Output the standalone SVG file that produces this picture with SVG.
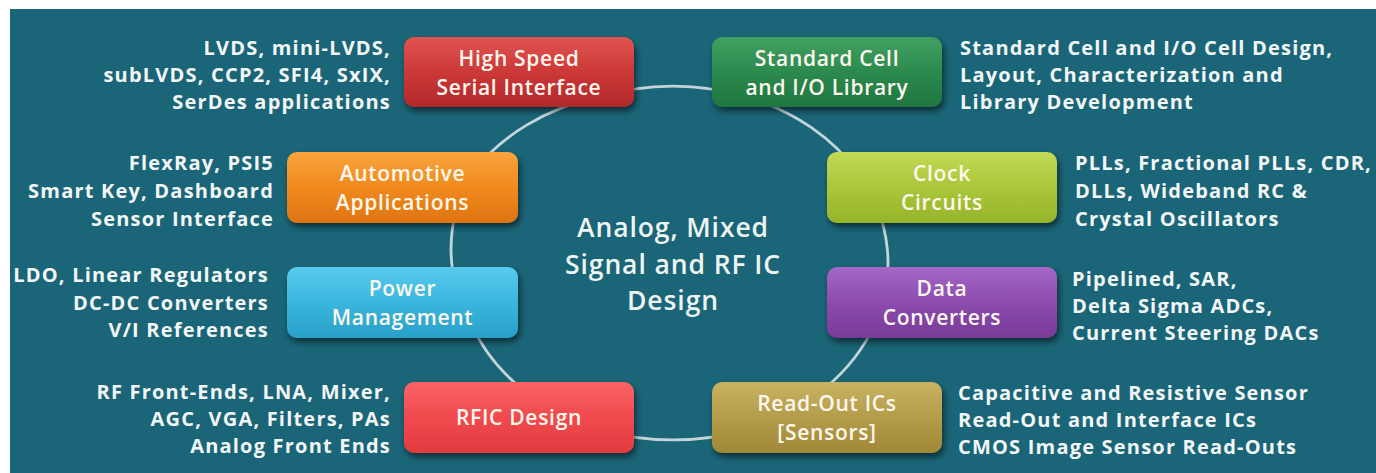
<svg xmlns="http://www.w3.org/2000/svg" width="1376" height="473" viewBox="0 0 1376 473">
  <defs>
    <style>
      .side { font-family: "Open Sans", Lato, "Liberation Sans", sans-serif; font-weight: 700; font-size: 20px; letter-spacing: 1.2px; fill: #f2f6f6; }
      .lbl { font-family: "Open Sans", Lato, "Liberation Sans", sans-serif; font-weight: 600; font-size: 21px; letter-spacing: 0.7px; fill: #fdf7ee; text-anchor: middle; }
      .title { font-family: "Open Sans", Lato, "Liberation Sans", sans-serif; font-weight: 600; font-size: 26.5px; letter-spacing: 0.9px; fill: #eef4f2; text-anchor: middle; }
      .end { text-anchor: end; }
      .ring { fill: none; stroke: #c3d5d8; stroke-width: 2.8; }
    </style>
    <filter id="shadow" x="-10%" y="-15%" width="125%" height="140%">
      <feGaussianBlur in="SourceAlpha" stdDeviation="3"/>
      <feOffset dx="2" dy="4" result="b"/>
      <feComponentTransfer><feFuncA type="linear" slope="0.55"/></feComponentTransfer>
      <feMerge><feMergeNode/><feMergeNode in="SourceGraphic"/></feMerge>
    </filter>
    <linearGradient id="gRed" x1="0" y1="0" x2="0" y2="1">
      <stop offset="0" stop-color="#e05450"/><stop offset="0.5" stop-color="#cc3838"/><stop offset="1" stop-color="#b2282a"/>
    </linearGradient>
    <linearGradient id="gGreen" x1="0" y1="0" x2="0" y2="1">
      <stop offset="0" stop-color="#42a062"/><stop offset="0.5" stop-color="#2c8a4e"/><stop offset="1" stop-color="#1f7640"/>
    </linearGradient>
    <linearGradient id="gOrange" x1="0" y1="0" x2="0" y2="1">
      <stop offset="0" stop-color="#f8a43c"/><stop offset="0.5" stop-color="#f08a1e"/><stop offset="1" stop-color="#de7410"/>
    </linearGradient>
    <linearGradient id="gLime" x1="0" y1="0" x2="0" y2="1">
      <stop offset="0" stop-color="#c2da56"/><stop offset="0.5" stop-color="#aac63a"/><stop offset="1" stop-color="#96b42a"/>
    </linearGradient>
    <linearGradient id="gCyan" x1="0" y1="0" x2="0" y2="1">
      <stop offset="0" stop-color="#58cbec"/><stop offset="0.5" stop-color="#3ab6de"/><stop offset="1" stop-color="#28a0c8"/>
    </linearGradient>
    <linearGradient id="gPurple" x1="0" y1="0" x2="0" y2="1">
      <stop offset="0" stop-color="#a468c6"/><stop offset="0.5" stop-color="#8c4cae"/><stop offset="1" stop-color="#783a98"/>
    </linearGradient>
    <linearGradient id="gCoral" x1="0" y1="0" x2="0" y2="1">
      <stop offset="0" stop-color="#fa6464"/><stop offset="0.5" stop-color="#f04a4e"/><stop offset="1" stop-color="#e23a40"/>
    </linearGradient>
    <linearGradient id="gOlive" x1="0" y1="0" x2="0" y2="1">
      <stop offset="0" stop-color="#c8b262"/><stop offset="0.5" stop-color="#b49c4a"/><stop offset="1" stop-color="#a08838"/>
    </linearGradient>
  </defs>

  <!-- page and panel background -->
  <rect x="0" y="0" width="1376" height="473" fill="#ffffff"/>
  <rect x="10" y="9" width="1366" height="464" fill="#1a6577"/>

  <!-- ring of connectors: ellipse centre (673,263), rx 215, ry 177 -->
  <g id="connectors">
    <path class="ring" d="M599.5,96.7 A215,177 0 0 1 746.5,96.7"/>
    <path class="ring" d="M746.5,96.7 A215,177 0 0 1 859.2,174.5"/>
    <path class="ring" d="M859.2,174.5 A215,177 0 0 1 875.0,323.5"/>
    <path class="ring" d="M875.0,323.5 A215,177 0 0 1 746.5,429.3"/>
    <path class="ring" d="M746.5,429.3 A215,177 0 0 1 599.5,429.3"/>
    <path class="ring" d="M599.5,429.3 A215,177 0 0 1 471.0,323.5"/>
    <path class="ring" d="M471.0,323.5 A215,177 0 0 1 471.0,174.5"/>
    <path class="ring" d="M471.0,174.5 A215,177 0 0 1 599.5,96.7"/>
  </g>

  <!-- centre title -->
  <g id="title">
    <text class="title" x="673" y="237">Analog, Mixed</text>
    <text class="title" x="673" y="273.5">Signal and RF IC</text>
    <text class="title" x="673" y="310">Design</text>
  </g>

  <g id="node-highspeed">
    <rect x="404" y="37" width="230" height="70" rx="10" fill="url(#gRed)" filter="url(#shadow)"/>
    <text class="lbl" x="519" y="66">High Speed</text>
    <text class="lbl" x="519" y="95">Serial Interface</text>
    <text class="side end" x="391" y="55">LVDS, mini-LVDS,</text>
    <text class="side end" x="391" y="82">subLVDS, CCP2, SFI4, SxIX,</text>
    <text class="side end" x="391" y="109">SerDes applications</text>
  </g>

  <g id="node-stdcell">
    <rect x="712" y="37" width="230" height="70" rx="10" fill="url(#gGreen)" filter="url(#shadow)"/>
    <text class="lbl" x="827" y="66">Standard Cell</text>
    <text class="lbl" x="827" y="95">and I/O Library</text>
    <text class="side" x="960" y="55">Standard Cell and I/O Cell Design,</text>
    <text class="side" x="960" y="82">Layout, Characterization and</text>
    <text class="side" x="960" y="109">Library Development</text>
  </g>

  <g id="node-automotive">
    <rect x="287" y="152" width="231" height="71" rx="10" fill="url(#gOrange)" filter="url(#shadow)"/>
    <text class="lbl" x="402.5" y="181">Automotive</text>
    <text class="lbl" x="402.5" y="210">Applications</text>
    <text class="side end" x="274" y="170">FlexRay, PSI5</text>
    <text class="side end" x="274" y="198">Smart Key, Dashboard</text>
    <text class="side end" x="274" y="226">Sensor Interface</text>
  </g>

  <g id="node-clock">
    <rect x="827" y="152" width="230" height="71" rx="10" fill="url(#gLime)" filter="url(#shadow)"/>
    <text class="lbl" x="942" y="181">Clock</text>
    <text class="lbl" x="942" y="210">Circuits</text>
    <text class="side" x="1075" y="170">PLLs, Fractional PLLs, CDR,</text>
    <text class="side" x="1075" y="198">DLLs,  Wideband RC &amp;</text>
    <text class="side" x="1075" y="226">Crystal Oscillators</text>
  </g>

  <g id="node-power">
    <rect x="287" y="267" width="231" height="71" rx="10" fill="url(#gCyan)" filter="url(#shadow)"/>
    <text class="lbl" x="402.5" y="296">Power</text>
    <text class="lbl" x="402.5" y="325">Management</text>
    <text class="side end" x="269" y="282">LDO, Linear Regulators</text>
    <text class="side end" x="269" y="309.5">DC-DC Converters</text>
    <text class="side end" x="269" y="337">V/I References</text>
  </g>

  <g id="node-data">
    <rect x="827" y="267" width="230" height="71" rx="10" fill="url(#gPurple)" filter="url(#shadow)"/>
    <text class="lbl" x="942" y="296">Data</text>
    <text class="lbl" x="942" y="325">Converters</text>
    <text class="side" x="1072" y="286">Pipelined, SAR,</text>
    <text class="side" x="1072" y="313">Delta Sigma ADCs,</text>
    <text class="side" x="1072" y="340">Current Steering DACs</text>
  </g>

  <g id="node-rfic">
    <rect x="404" y="382" width="230" height="71" rx="10" fill="url(#gCoral)" filter="url(#shadow)"/>
    <text class="lbl" x="519" y="425">RFIC Design</text>
    <text class="side end" x="391" y="399">RF Front-Ends, LNA, Mixer,</text>
    <text class="side end" x="391" y="426">AGC, VGA, Filters, PAs</text>
    <text class="side end" x="391" y="453">Analog Front Ends</text>
  </g>

  <g id="node-readout">
    <rect x="712" y="382" width="230" height="71" rx="10" fill="url(#gOlive)" filter="url(#shadow)"/>
    <text class="lbl" x="827" y="411">Read-Out ICs</text>
    <text class="lbl" x="827" y="440">[Sensors]</text>
    <text class="side" x="958" y="400">Capacitive and Resistive Sensor</text>
    <text class="side" x="958" y="427">Read-Out and Interface ICs</text>
    <text class="side" x="958" y="454">CMOS Image Sensor Read-Outs</text>
  </g>
</svg>
